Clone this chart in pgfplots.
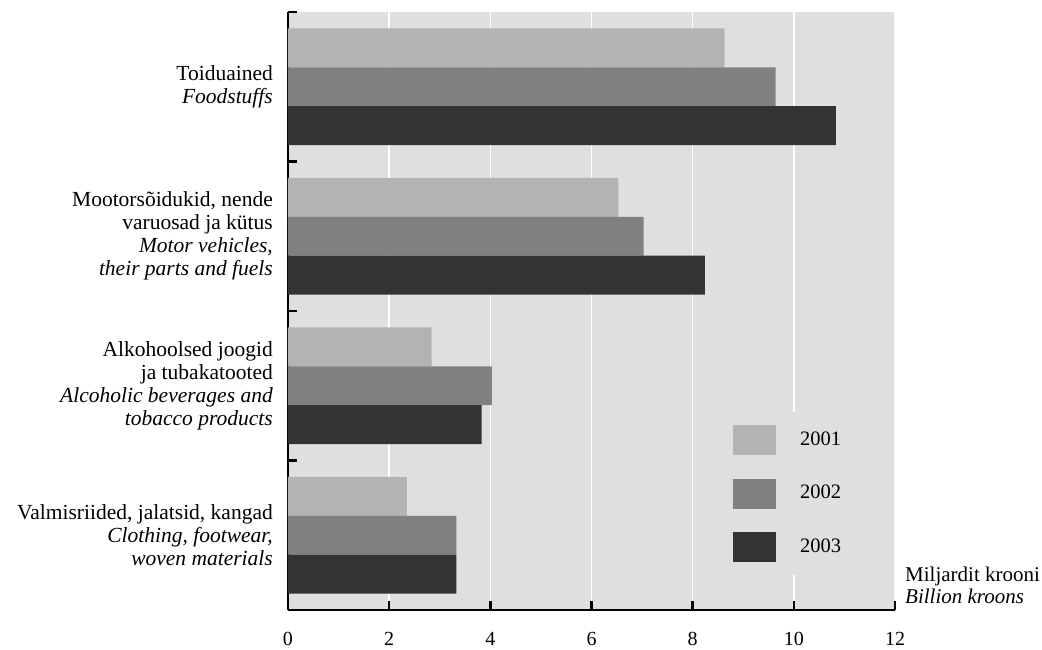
\documentclass[border=0pt]{standalone}
\usepackage{fontspec}
\setmainfont{Liberation Serif}
\usepackage{pgfplots}
\pgfplotsset{compat=1.18}
\definecolor{bg}{HTML}{DFDFDF}
\definecolor{cA}{HTML}{B3B3B3}
\definecolor{cB}{HTML}{808080}
\definecolor{cC}{HTML}{333333}
\begin{document}
\fontsize{21.5}{23}\selectfont
\begin{tikzpicture}[font=\fontsize{21.5}{23}\selectfont]
\useasboundingbox (0,0) rectangle (1042pt,650pt);
\begin{axis}[
  at={(288pt,40pt)}, anchor=south west,
  scale only axis, width=607pt, height=598pt,
  clip=false,
  xmin=0, xmax=12, ymin=-0.5, ymax=3.5,
  xtick={0,2,...,12},
  ytick={-0.5,0.5,1.5,2.5,3.5},
  yticklabels={},
  axis x line=bottom, axis y line=left,
  axis line style={-, line width=2.5pt, black},
  tick align=inside,
  major tick length=9pt,
  tick style={line width=2.5pt, black},
  axis background/.style={fill=bg},
  xmajorgrids,
  grid style={white, line width=1.5pt},
  /pgf/number format/assume math mode=true,
  xticklabel style={font=\fontsize{20}{23}\selectfont, yshift=-15pt},
  legend style={at={(0.7035,0.3311)}, anchor=north west, fill=bg, draw=none,
    inner xsep=18pt, inner ysep=13pt, row sep=23.5pt, column sep=24pt,
    nodes={inner sep=0pt}, font=\fontsize{20.5}{23}\selectfont},
  legend cell align=left,
  legend image code/.code={\path[#1, draw=none] (0pt,-15pt) rectangle (43pt,15pt);},
]
\addplot[xbar, bar width=0.26, bar shift=0.26, fill=cA, draw=none]
  coordinates {(8.63,3) (6.53,2) (2.84,1) (2.35,0)};
\addlegendentry{2001}
\addplot[xbar, bar width=0.26, bar shift=0, fill=cB, draw=none]
  coordinates {(9.64,3) (7.03,2) (4.03,1) (3.33,0)};
\addlegendentry{2002}
\addplot[xbar, bar width=0.26, bar shift=-0.26, fill=cC, draw=none]
  coordinates {(10.83,3) (8.24,2) (3.83,1) (3.33,0)};
\addlegendentry{2003}

\node[anchor=east, align=right, inner sep=0pt, xshift=-15pt] at (axis cs:0,3)
  {Toiduained\\\textit{Foodstuffs}};
\node[anchor=east, align=right, inner sep=0pt, xshift=-15pt] at (axis cs:0,2)
  {Mootorsõidukid, nende\\varuosad ja kütus\\\textit{Motor vehicles,}\\\textit{their parts and fuels}};
\node[anchor=east, align=right, inner sep=0pt, xshift=-15pt] at (axis cs:0,1)
  {Alkohoolsed joogid\\ja tubakatooted\\\textit{Alcoholic beverages and}\\\textit{tobacco products}};
\node[anchor=east, align=right, inner sep=0pt, xshift=-15pt] at (axis cs:0,0)
  {Valmisriided, jalatsid, kangad\\\textit{Clothing, footwear,}\\\textit{woven materials}};

\node[anchor=base west, inner sep=0pt, font=\fontsize{21}{23}\selectfont] at (rel axis cs:1,0) [xshift=10pt, yshift=6pt] {\textit{Billion kroons}};
\node[anchor=base west, inner sep=0pt, font=\fontsize{21}{23}\selectfont] at (rel axis cs:1,0) [xshift=10pt, yshift=28pt] {Miljardit krooni};
\end{axis}
\end{tikzpicture}
\end{document}
